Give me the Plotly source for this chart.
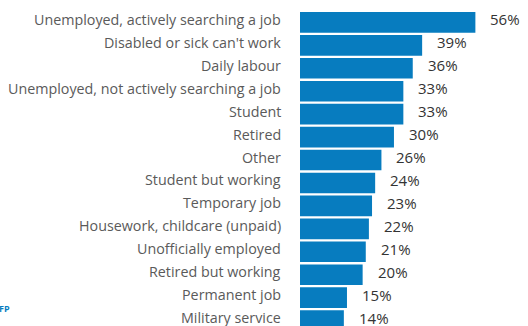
import plotly.graph_objects as go

# Share of respondents by employment status
categories = [
    "Unemployed, actively searching a job",
    "Disabled or sick can't work",
    "Daily labour",
    "Unemployed, not actively searching a job",
    "Student",
    "Retired",
    "Other",
    "Student but working",
    "Temporary job",
    "Housework, childcare (unpaid)",
    "Unofficially employed",
    "Retired but working",
    "Permanent job",
    "Military service",
]
values = [56, 39, 36, 33, 33, 30, 26, 24, 23, 22, 21, 20, 15, 14]
value_labels = [f"{v}%" for v in values]

BAR_COLOR = "#077CBF"
LABEL_COLOR = "#5a5a5a"
VALUE_COLOR = "#333333"
FONT = "Open Sans"

fig = go.Figure(
    go.Bar(
        x=values,
        y=categories,
        orientation="h",
        marker=dict(color=BAR_COLOR, line=dict(width=0)),
        hoverinfo="skip",
    )
)

# Category names to the left of the bars, sitting slightly high
for cat in categories:
    fig.add_annotation(
        x=0, y=cat, text=cat, showarrow=False,
        xanchor="right", xshift=-17, yshift=3,
        font=dict(family=FONT, size=14.3, color=LABEL_COLOR),
    )

# Percentage labels to the right of each bar
for cat, val, lab in zip(categories, values, value_labels):
    fig.add_annotation(
        x=val, y=cat, text=lab, showarrow=False,
        xanchor="left", xshift=13, yshift=3,
        font=dict(family=FONT, size=15, color=VALUE_COLOR),
    )

# Partial organisation mark in the lower-left corner
fig.add_annotation(
    x=0, y=0, xref="paper", yref="paper", xanchor="left", yanchor="bottom",
    text="<b>FP</b>", showarrow=False, xshift=-303, yshift=9,
    font=dict(family=FONT, size=9, color=BAR_COLOR),
)

fig.update_layout(
    width=528, height=326,
    margin=dict(l=300, r=0, t=0, b=0, autoexpand=False),
    paper_bgcolor="white", plot_bgcolor="white",
    bargap=0.1,
    showlegend=False,
    font=dict(family=FONT, size=14.3, color=LABEL_COLOR),
    xaxis=dict(range=[0, 72.8], visible=False, fixedrange=True),
    yaxis=dict(
        categoryorder="array", categoryarray=categories,
        range=[13.235, -0.976],
        automargin=False, showticklabels=False,
        showgrid=False, zeroline=False, showline=False, ticks="",
        fixedrange=True,
    ),
)

fig.write_html("out.html")
